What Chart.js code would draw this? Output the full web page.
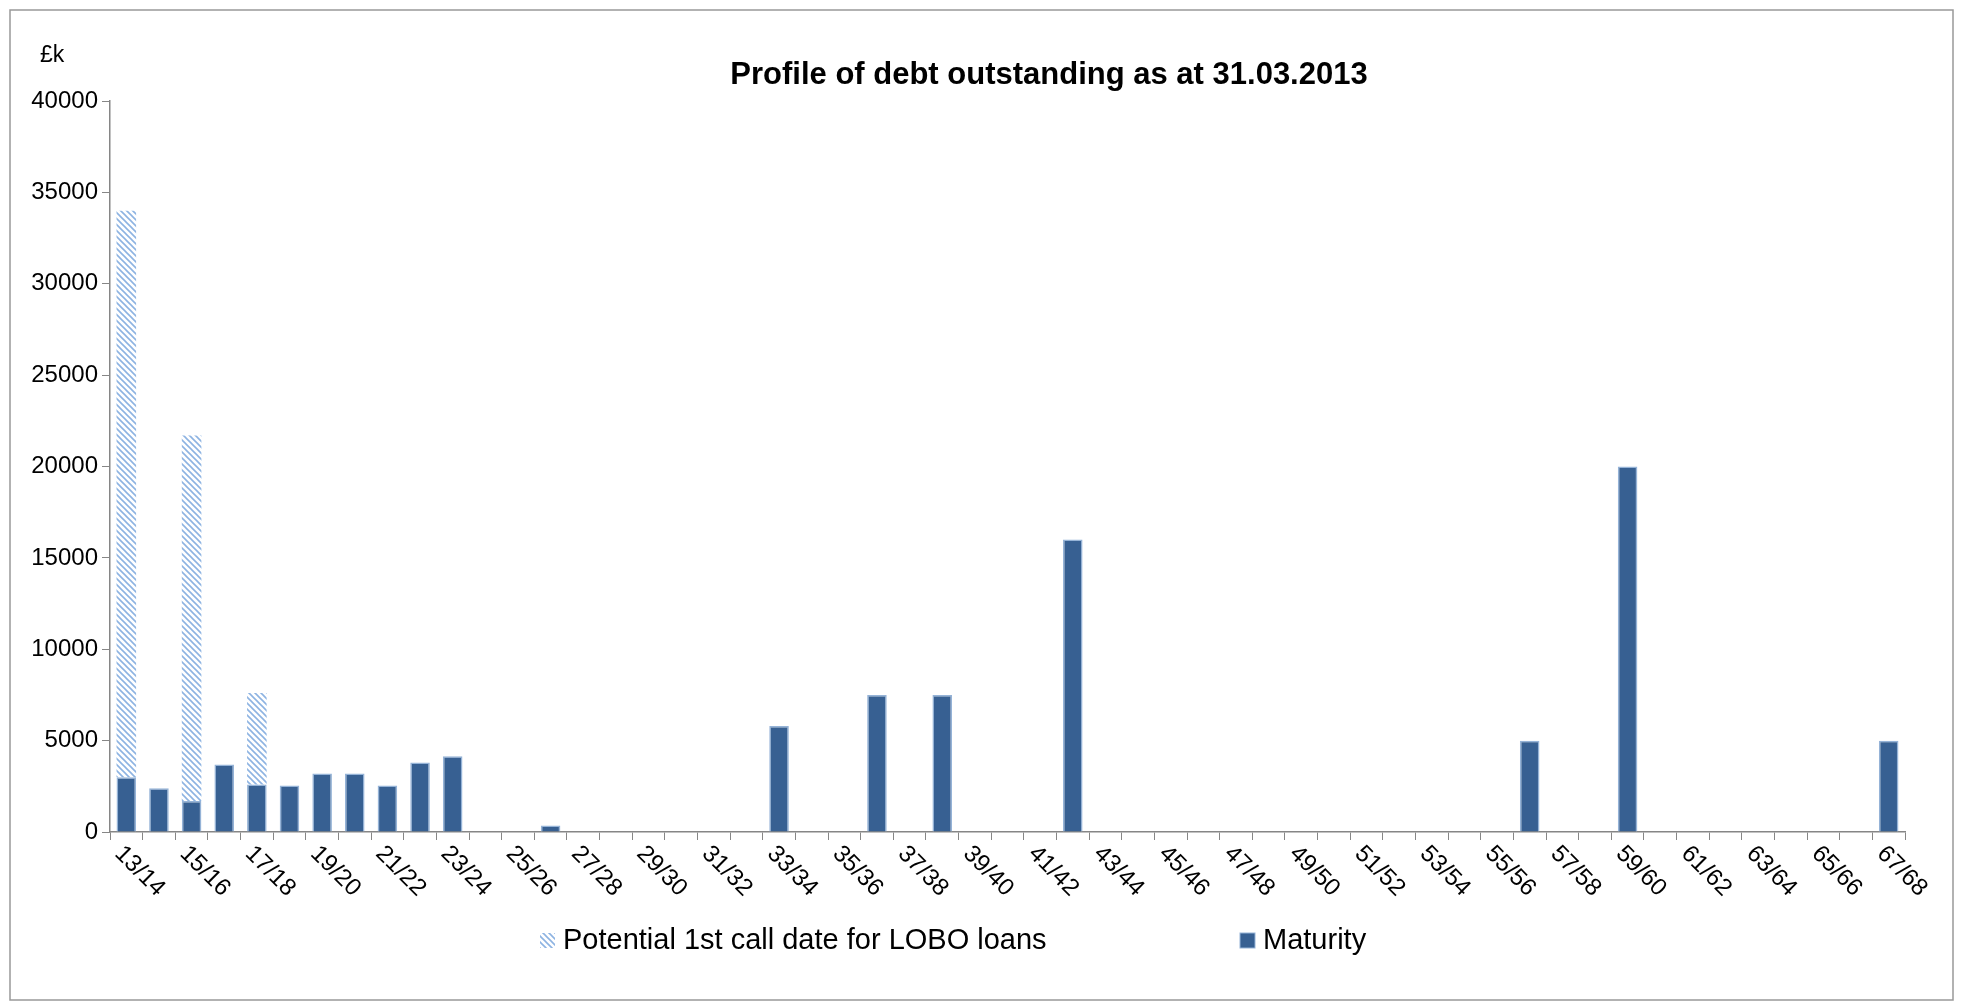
<!DOCTYPE html>
<html>
<head>
<meta charset="utf-8">
<script src="https://cdn.jsdelivr.net/npm/chart.js@4"></script>
<style>
  html, body { margin: 0; padding: 0; background: #fff; }
  #wrap { width: 1963px; height: 1006px; position: relative; }
</style>
</head>
<body>
<div id="wrap"><canvas id="chart" width="1963" height="1006"></canvas></div>
<script>
// categories 13/14 .. 67/68
const categories = [];
for (let y = 13; y <= 67; y++) categories.push(y + '/' + (y + 1));

// Maturity values (£k), by year index
const maturity = [3000, 2400, 1700, 3700, 2600, 2550, 3200, 3200, 2550, 3800, 4150, 0, 0, 350,
  0, 0, 0, 0, 0, 0, 5800, 0, 0, 7500, 0, 7500, 0, 0, 0, 16000,
  0, 0, 0, 0, 0, 0, 0, 0, 0, 0, 0, 0, 0, 5000, 0, 0, 20000,
  0, 0, 0, 0, 0, 0, 0, 5000];
// potential first call date for LOBO loans (stacked on top of maturity)
const lobo = [31000, 0, 20000, 0, 5000];
while (lobo.length < categories.length) lobo.push(0);

const yTicks = [0, 5000, 10000, 15000, 20000, 25000, 30000, 35000, 40000];

const FONT = "'Liberation Sans', Arial, sans-serif";

function hatch() {
  const c = document.createElement('canvas');
  c.width = 6; c.height = 6;
  const g = c.getContext('2d');
  g.fillStyle = '#fff';
  g.fillRect(0, 0, 6, 6);
  g.strokeStyle = '#8db3e2';
  g.lineWidth = 1.6;
  g.beginPath();
  g.moveTo(0, 0); g.lineTo(6, 6);
  g.moveTo(-3, 3); g.lineTo(3, 9);
  g.moveTo(3, -3); g.lineTo(9, 3);
  g.stroke();
  return g.createPattern(c, 'repeat');
}
const ctx = document.getElementById('chart').getContext('2d');
const loboFill = hatch();

const decor = {
  id: 'decor',
  afterDraw(chart) {
    const c = chart.ctx;
    c.save();
    // frame
    c.strokeStyle = '#999';
    c.lineWidth = 1.5;
    c.strokeRect(10, 10, 1943, 990);
    // title
    c.fillStyle = '#000';
    c.font = 'bold 31px ' + FONT;
    c.textAlign = 'center';
    c.textBaseline = 'middle';
    c.fillText('Profile of debt outstanding as at 31.03.2013', 1049, 75);
    // unit
    c.font = '23px ' + FONT;
    c.textAlign = 'left';
    c.fillText('£k', 40, 56);
    // x labels, rotated down-right
    const xs = chart.scales.x;
    c.font = '24px ' + FONT;
    categories.forEach((lab, i) => {
      if (i % 2) return;
      const x = xs.getPixelForTick(i);
      c.save();
      c.translate(x - 8, chart.chartArea.bottom + 18);
      c.rotate(Math.PI / 4);
      c.textAlign = 'left';
      c.textBaseline = 'middle';
      c.fillText(lab, 0, 0);
      c.restore();
    });
    // legend
    c.font = '29px ' + FONT;
    c.textBaseline = 'middle';
    c.fillStyle = loboFill;
    c.fillRect(540, 933, 15, 15);
    c.fillStyle = '#000';
    c.fillText('Potential 1st call date for LOBO loans', 563, 941);
    c.fillStyle = '#376092';
    c.fillRect(1240, 933, 15, 15);
    c.strokeStyle = '#95b3d7';
    c.lineWidth = 1;
    c.strokeRect(1240, 933, 15, 15);
    c.fillStyle = '#000';
    c.fillText('Maturity', 1263, 941);
    c.restore();
  }
};

new Chart(ctx, {
  type: 'bar',
  data: {
    labels: categories,
    datasets: [
      { label: 'Maturity', data: maturity, backgroundColor: '#376092', borderColor: '#95b3d7', borderWidth: 1.5,
        barPercentage: 0.6, categoryPercentage: 1 },
      { label: 'Potential 1st call date for LOBO loans', data: lobo, backgroundColor: loboFill, borderWidth: 0,
        barPercentage: 0.6, categoryPercentage: 1 }
    ]
  },
  options: {
    responsive: false,
    animation: false,
    layout: { padding: { top: 101, right: 58, left: 0, bottom: 0 } },
    plugins: { legend: { display: false }, tooltip: { enabled: false } },
    scales: {
      x: {
        stacked: true,
        offset: true,
        afterFit(s) { s.height = 174; },
        grid: { offset: true, drawOnChartArea: false, color: '#868686', tickLength: 8 },
        border: { color: '#868686', width: 1.5 },
        ticks: { display: false, autoSkip: false }
      },
      y: {
        stacked: true,
        min: 0, max: 40000,
        afterFit(s) { s.width = 110; },
        afterBuildTicks(s) { s.ticks = yTicks.map(v => ({ value: v })); },
        grid: { drawOnChartArea: false, color: '#868686', tickLength: 8 },
        border: { color: '#868686', width: 1.5 },
        ticks: { color: '#000', font: { family: FONT, size: 24 }, padding: 4, callback: v => String(v) }
      }
    }
  },
  plugins: [decor]
});
</script>
</body>
</html>
